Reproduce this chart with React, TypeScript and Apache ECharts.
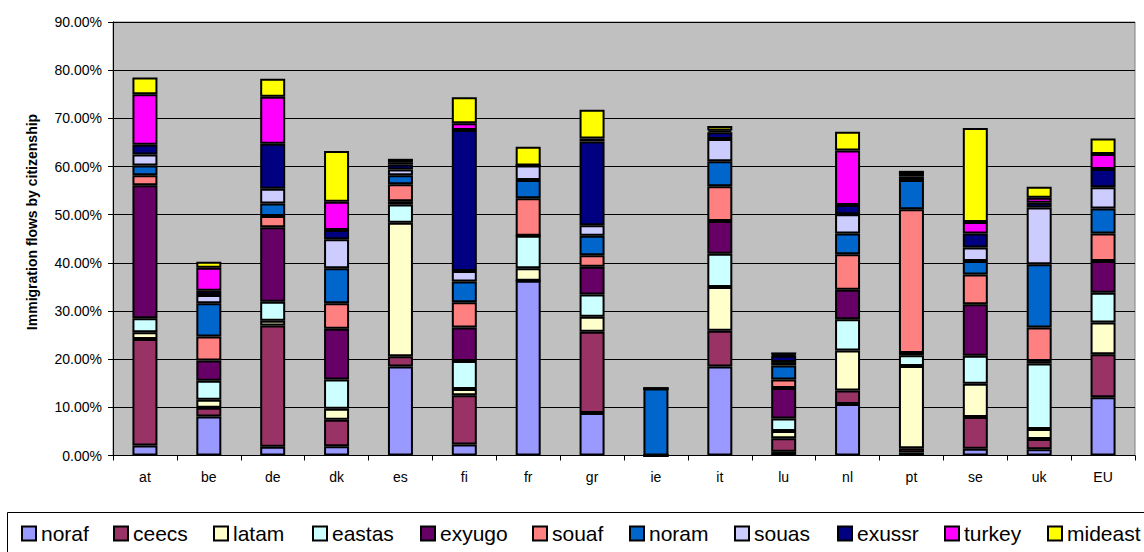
import React, { useEffect, useRef } from "react";
import * as echarts from "echarts";

const categories = ["at", "be", "de", "dk", "es", "fi", "fr", "gr", "ie", "it", "lu", "nl", "pt", "se", "uk", "EU"];

const seriesNames = ["noraf", "ceecs", "latam", "eastas", "exyugo", "souaf", "noram", "souas", "exussr", "turkey", "mideast"];

const noraf = [2.1, 8.1, 1.8, 1.9, 18.5, 2.3, 36.3, 8.8, 0, 18.5, 0.8, 10.7, 0.6, 1.4, 1.3, 12.1];
const ceecs = [22.1, 1.8, 25.2, 5.5, 2.1, 10.2, 0, 16.9, 0, 7.4, 2.8, 2.8, 0.9, 6.6, 2.1, 8.9];
const latam = [1.4, 1.7, 1.0, 2.3, 27.7, 1.3, 2.6, 3.1, 0, 9.1, 1.5, 8.3, 17.1, 6.9, 2.1, 6.6];
const eastas = [2.9, 3.9, 3.9, 6.1, 3.8, 5.8, 6.7, 4.6, 0, 6.9, 2.6, 6.5, 2.2, 5.8, 13.6, 6.2];
const exyugo = [27.6, 4.2, 15.5, 10.5, 0.7, 7.0, 0, 5.8, 0, 6.8, 6.3, 6.1, 0.5, 10.7, 0.5, 6.6];
const souaf = [2.1, 5.0, 2.3, 5.3, 3.5, 5.2, 7.8, 2.4, 0, 7.2, 1.8, 7.4, 29.8, 6.2, 7.0, 5.7];
const noram = [2.0, 6.9, 2.6, 7.3, 1.9, 4.3, 3.8, 4.0, 13.9, 5.2, 2.9, 4.3, 6.1, 2.8, 13.1, 5.2];
const souas = [2.3, 1.7, 3.1, 6.0, 1.2, 2.2, 3.0, 2.2, 0, 4.6, 0.7, 4.0, 0.7, 2.8, 11.8, 4.4];
const exussr = [2.0, 0.9, 9.3, 1.9, 1.0, 29.3, 0, 17.4, 0, 1.4, 1.3, 1.9, 0.7, 2.9, 1.0, 3.8];
const turkey = [10.5, 4.8, 9.8, 5.9, 0.5, 1.4, 0, 0.6, 0, 0.4, 0.2, 11.3, 0, 2.4, 1.0, 3.1];
const mideast = [3.5, 1.2, 3.7, 10.5, 0.7, 5.4, 3.9, 6.0, 0, 0.9, 0.5, 3.9, 0.5, 19.5, 2.3, 3.2];

const seriesValues = [noraf, ceecs, latam, eastas, exyugo, souaf, noram, souas, exussr, turkey, mideast];

const colors = ["#9999FF", "#993366", "#FFFFCC", "#CCFFFF", "#660066", "#FF8080", "#0066CC", "#CCCCFF", "#000080", "#FF00FF", "#FFFF00"];

const yTickLabel = (v: number) => v.toFixed(2) + "%";
const axisTitle = "Immigration flows by citizenship";

const legendLefts = [21, 113, 213, 312, 420, 532, 629, 734, 837, 944, 1047];

const FONT = "'Liberation Sans', Arial, sans-serif";

export default function App() {
  const ref = useRef<HTMLDivElement>(null);

  useEffect(() => {
    if (!ref.current) return;
    const chart = echarts.init(ref.current, null, { renderer: "svg" });
    chart.setOption({
      animation: false,
      color: colors,
      textStyle: { fontFamily: FONT },
      grid: {
        left: 113,
        right: 9,
        top: 22,
        bottom: 96.5,
        show: true,
        backgroundColor: "#C0C0C0",
        borderColor: "#808080",
        borderWidth: 1,
      },
      legend: seriesNames.map((name, i) => ({
        data: [name],
        left: legendLefts[i],
        top: 523,
        padding: 0,
        itemWidth: 14,
        itemHeight: 14,
        icon: "rect",
        itemStyle: { borderColor: "#000", borderWidth: 2 },
        textStyle: { fontSize: 21, color: "#000", fontFamily: FONT },
      })),
      graphic: [
        {
          type: "rect",
          shape: { x: 7.5, y: 512.5, width: 1150, height: 60 },
          style: { fill: "none", stroke: "#000", lineWidth: 1 },
          silent: true,
        },
        {
          type: "text",
          x: 32,
          y: 222,
          rotation: Math.PI / 2,
          style: {
            text: axisTitle,
            fontSize: 14,
            fontWeight: "bold",
            fontFamily: FONT,
            fill: "#000",
            align: "center",
            verticalAlign: "middle",
          },
        },
      ],
      xAxis: {
        type: "category",
        data: categories,
        axisLine: { lineStyle: { color: "#000", width: 1 } },
        axisTick: { show: true, interval: 0, length: 5, alignWithLabel: false, lineStyle: { color: "#000" } },
        axisLabel: { color: "#000", fontSize: 14, margin: 14, interval: 0, fontFamily: FONT },
        splitLine: { show: false },
      },
      yAxis: {
        type: "value",
        min: 0,
        max: 90,
        interval: 10,
        axisLine: { show: true, lineStyle: { color: "#000", width: 1 } },
        axisTick: { show: true, length: 5, lineStyle: { color: "#000" } },
        axisLabel: { color: "#000", fontSize: 14, margin: 11, formatter: yTickLabel, fontFamily: FONT },
        splitLine: { show: true, lineStyle: { color: "#000", width: 1 } },
      },
      series: seriesNames.map((name, i) => ({
        name,
        type: "bar",
        stack: "total",
        barWidth: 25,
        data: seriesValues[i],
        itemStyle: { color: colors[i], borderColor: "#000", borderWidth: 2 },
        emphasis: { disabled: true },
      })),
    });
    return () => chart.dispose();
  }, []);

  return (
    <div
      ref={ref}
      style={{ position: "fixed", left: 0, top: 0, width: 1144, height: 552, background: "#fff" }}
    />
  );
}
